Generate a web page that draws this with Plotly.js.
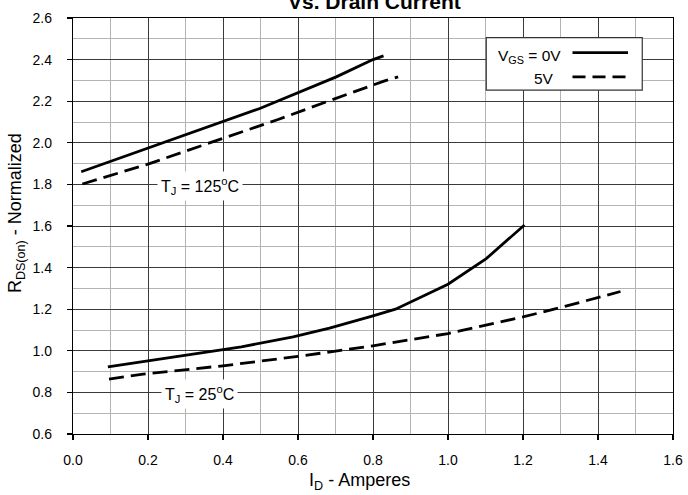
<!DOCTYPE html>
<html>
<head>
<meta charset="utf-8">
<script src="https://cdn.plot.ly/plotly-3.0.1.min.js"></script>
<style>html,body{margin:0;padding:0;background:#fff;}#chart{width:688px;height:495px;}</style>
</head>
<body>
<div id="chart"></div>
<script>
// Tj = 125 C, VGS = 0V
const id125_0V = [0.022, 0.258, 0.40, 0.498, 0.702, 0.80, 0.828];
const r125_0V  = [1.861, 2.013, 2.102, 2.165, 2.317, 2.40, 2.418];
// Tj = 125 C, VGS = 5V
const id125_5V = [0.025, 0.204, 0.36, 0.547, 0.676, 0.831, 0.867];
const r125_5V  = [1.802, 1.90, 1.997, 2.112, 2.197, 2.298, 2.317];
// Tj = 25 C, VGS = 0V
const id25_0V = [0.093, 0.40, 0.449, 0.587, 0.684, 0.80, 0.86, 1.0, 1.102, 1.204];
const r25_0V  = [0.923, 1.008, 1.019, 1.067, 1.109, 1.168, 1.20, 1.32, 1.443, 1.605];
// Tj = 25 C, VGS = 5V
const id25_5V = [0.096, 0.187, 0.40, 0.60, 0.80, 0.962, 1.0, 1.2, 1.3, 1.46];
const r25_5V  = [0.864, 0.888, 0.928, 0.973, 1.024, 1.072, 1.083, 1.163, 1.208, 1.285];

const titleText = '<b>Vs. Drain Current</b>';
const xTitle = 'I<sub>D</sub> - Amperes';
const yTitle = 'R<sub>DS(on)</sub> - Normalized';
const legendLabels = ['V<sub>GS</sub> = 0V', '5V'];
const tempLabels = ['T<sub>J</sub> = 125<sup>o</sup>C', 'T<sub>J</sub> = 25<sup>o</sup>C'];

const FONT = 'Liberation Sans, Arial, Helvetica, sans-serif';
const solid = {color: '#000', width: 2.8};
const dashed = {color: '#000', width: 2.8, dash: '15px,7px'};

const traces = [
  {x: id125_0V, y: r125_0V, mode: 'lines', line: solid, showlegend: false, hoverinfo: 'skip'},
  {x: id125_5V, y: r125_5V, mode: 'lines', line: dashed, showlegend: false, hoverinfo: 'skip'},
  {x: id25_0V, y: r25_0V, mode: 'lines', line: solid, showlegend: false, hoverinfo: 'skip'},
  {x: id25_5V, y: r25_5V, mode: 'lines', line: dashed, showlegend: false, hoverinfo: 'skip'}
];

const axisCommon = {
  showline: true, linecolor: '#000', linewidth: 1.2, mirror: true,
  showgrid: true, gridcolor: '#3a3a3a', gridwidth: 1,
  ticks: 'outside', ticklen: 5, tickcolor: '#000', tickwidth: 1.2,
  tickformat: '.1f', zeroline: false,
  tickfont: {family: FONT, size: 14, color: '#000'}
};

const layout = {
  width: 688, height: 495,
  margin: {l: 73, r: 15, t: 18, b: 61},
  paper_bgcolor: '#fff', plot_bgcolor: '#fff',
  showlegend: false,
  xaxis: Object.assign({}, axisCommon, {
    range: [0, 1.6], dtick: 0.2, tick0: 0, ticklabelstandoff: 8,
    minor: {dtick: 0.1, showgrid: true, gridcolor: '#b4b4b4', gridwidth: 1, ticklen: 0}
  }),
  yaxis: Object.assign({}, axisCommon, {
    range: [0.6, 2.6], dtick: 0.2, tick0: 0.6, ticklabelstandoff: 12,
    minor: {dtick: 0.1, showgrid: true, gridcolor: '#b4b4b4', gridwidth: 1, ticklen: 0}
  }),
  shapes: [
    {type: 'rect', xref: 'x', yref: 'y', x0: 1.102, x1: 1.518, y0: 2.253, y1: 2.506,
     line: {color: '#333', width: 1.2}, fillcolor: '#fff', layer: 'above'},
    {type: 'line', xref: 'x', yref: 'y', x0: 1.332, x1: 1.48, y0: 2.434, y1: 2.434,
     line: {color: '#000', width: 2.8}},
    {type: 'line', xref: 'x', yref: 'y', x0: 1.332, x1: 1.48, y0: 2.317, y1: 2.317,
     line: {color: '#000', width: 2.8, dash: '13px,7px'}}
  ],
  annotations: [
    {text: titleText, xref: 'paper', yref: 'paper', x: 0.503, y: 1.04, xanchor: 'center', yanchor: 'middle',
     showarrow: false, font: {family: FONT, size: 21, color: '#000'}},
    {text: xTitle, xref: 'paper', yref: 'paper', x: 0.478, y: -0.113, xanchor: 'center', yanchor: 'middle',
     showarrow: false, font: {family: FONT, size: 18, color: '#000'}},
    {text: yTitle, xref: 'paper', yref: 'paper', x: -0.094, y: 0.53, xanchor: 'center', yanchor: 'middle',
     textangle: -90, showarrow: false, font: {family: FONT, size: 18, color: '#000'}},
    {text: legendLabels[0], xref: 'x', yref: 'y', x: 1.306, y: 2.413, xanchor: 'right', yanchor: 'middle',
     showarrow: false, font: {family: FONT, size: 15.5, color: '#000'}},
    {text: legendLabels[1], xref: 'x', yref: 'y', x: 1.289, y: 2.309, xanchor: 'right', yanchor: 'middle',
     showarrow: false, font: {family: FONT, size: 15.5, color: '#000'}},
    {text: tempLabels[0], xref: 'x', yref: 'y', x: 0.338, y: 1.79, xanchor: 'center', yanchor: 'middle',
     showarrow: false, bgcolor: '#fff', borderpad: 3, font: {family: FONT, size: 16, color: '#000'}},
    {text: tempLabels[1], xref: 'x', yref: 'y', x: 0.338, y: 0.79, xanchor: 'center', yanchor: 'middle',
     showarrow: false, bgcolor: '#fff', borderpad: 3, font: {family: FONT, size: 16, color: '#000'}}
  ]
};

Plotly.newPlot('chart', traces, layout, {staticPlot: true, displayModeBar: false});
</script>
</body>
</html>
